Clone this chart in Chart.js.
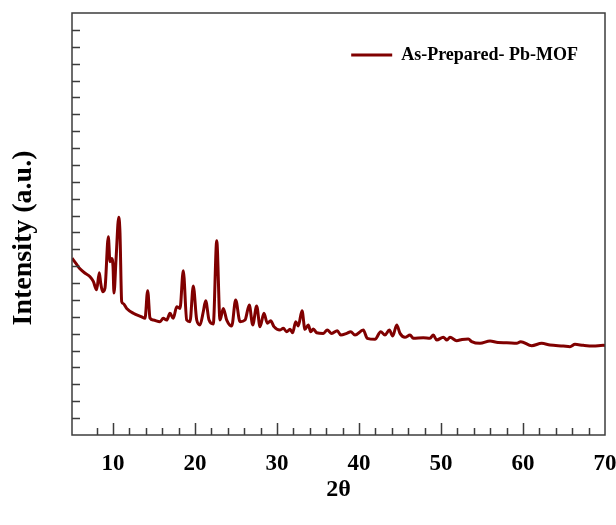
<!DOCTYPE html>
<html><head><meta charset="utf-8">
<script src="https://cdn.jsdelivr.net/npm/chart.js@4"></script>
<style>html,body{margin:0;padding:0;background:#fff}canvas{display:block}</style>
</head><body>
<canvas id="c" width="616" height="525"></canvas>
<script>
const twoTheta = [5.00,5.5,6.0,6.6,7.2,7.6,8.0,8.33,8.5,8.74,9.02,9.43,9.63,9.84,10.0,10.12,10.37,10.70,10.85,11.06,11.26,11.67,12.48,13.50,13.90,14.23,14.51,14.91,15.73,16.13,16.55,16.95,17.35,17.77,18.17,18.57,18.99,19.39,19.79,20.21,20.61,21.01,21.30,21.71,22.23,22.65,23.05,23.45,23.87,24.48,24.96,25.49,26.10,26.62,27.04,27.52,27.93,28.41,28.82,29.23,29.63,30.37,30.77,31.18,31.59,31.91,32.28,32.60,33.05,33.41,33.82,34.11,34.43,34.84,35.65,36.13,36.67,37.35,37.77,38.50,38.99,39.51,40.52,41.01,41.95,42.65,43.17,43.70,44.11,44.60,45.00,45.61,46.22,46.62,47.84,48.66,49.06,49.48,50.28,50.73,51.10,51.91,52.56,53.33,53.74,54.76,55.98,56.95,58.01,59.23,59.72,61.06,62.28,63.29,64.91,65.73,66.34,67.35,68.57,69.79,70.0];
const intensity = [10.47,10.15,9.83,9.58,9.38,9.10,8.60,9.61,9.0,8.49,8.70,11.75,10.27,10.45,10.0,8.41,10.40,12.90,12.00,7.90,7.78,7.50,7.21,7.00,6.91,8.55,6.93,6.81,6.71,6.91,6.81,7.21,6.91,7.60,7.50,9.73,6.81,6.71,8.83,6.81,6.52,7.30,7.96,6.81,6.58,11.51,6.81,7.50,6.81,6.46,8.00,6.71,6.81,7.70,6.52,7.64,6.42,7.21,6.62,6.77,6.42,6.22,6.32,6.12,6.26,6.06,6.71,6.46,7.36,6.26,6.52,6.12,6.28,6.06,6.02,6.22,6.02,6.18,5.92,6.02,6.12,5.92,6.22,5.73,5.67,6.12,5.92,6.22,5.86,6.52,6.02,5.79,5.92,5.73,5.76,5.73,5.92,5.63,5.79,5.63,5.79,5.59,5.66,5.69,5.53,5.43,5.57,5.48,5.47,5.43,5.53,5.29,5.43,5.33,5.27,5.23,5.37,5.31,5.27,5.31,5.30];
const xTickLabels = [10,20,30,40,50,60,70];
const seriesName = 'As-Prepared- Pb-MOF';
const xTitle = '2θ';
const yTitle = 'Intensity (a.u.)';

const serif = "'Liberation Serif','Times New Roman',serif";
const lineColor = '#800000';

const frameTicks = {
  id: 'frameTicks',
  afterDatasetsDraw(chart) {
    const {ctx, chartArea: a, scales: {x, y}} = chart;
    ctx.save();
    ctx.strokeStyle = '#3c3c3c';
    ctx.lineWidth = 1.5;
    ctx.beginPath();
    x.ticks.forEach(t => {
      if (t.value <= x.min || t.value >= x.max) return;
      const px = Math.round(x.getPixelForValue(t.value)) + 0.5;
      const len = xTickLabels.includes(t.value) ? 12 : 7;
      ctx.moveTo(px, a.bottom);
      ctx.lineTo(px, a.bottom - len);
    });
    y.ticks.forEach(t => {
      if (t.value <= y.min || t.value >= y.max) return;
      const py = Math.round(y.getPixelForValue(t.value)) + 0.5;
      ctx.moveTo(a.left, py);
      ctx.lineTo(a.left + 8, py);
    });
    ctx.stroke();
    ctx.strokeRect(a.left, a.top, a.right - a.left, a.bottom - a.top);
    ctx.restore();
  }
};

// place the legend in the upper right corner inside the plot frame
const legendPlace = {
  id: 'legendPlace',
  afterLayout(chart) {
    const lg = chart.legend;
    if (!lg || !lg.columnSizes || !lg.columnSizes.length) return;
    const pad = lg.options.labels.padding;
    const w = lg.columnSizes[0].width;
    lg.left = chart.chartArea.right - 27 - w - pad;
    lg.top = chart.chartArea.top + 33 - pad;
  }
};

new Chart(document.getElementById('c'), {
  type: 'line',
  data: {
    datasets: [{
      label: seriesName,
      data: twoTheta.map((v, i) => ({x: v, y: intensity[i]})),
      borderColor: lineColor,
      backgroundColor: lineColor,
      borderWidth: 3,
      pointRadius: 0,
      cubicInterpolationMode: 'monotone',
      borderJoinStyle: 'round',
      fill: false
    }]
  },
  options: {
    responsive: false,
    devicePixelRatio: 1,
    animation: false,
    layout: { autoPadding: false, padding: { top: 13, right: 11, left: 0, bottom: 0 } },
    plugins: {
      tooltip: { enabled: false },
      legend: {
        position: 'chartArea',
        align: 'start',
        labels: {
          usePointStyle: true,
          pointStyle: 'line',
          pointStyleWidth: 41,
          color: '#000',
          padding: 10,
          font: { family: serif, size: 18, weight: 'bold' }
        }
      }
    },
    scales: {
      x: {
        type: 'linear',
        min: 5, max: 70,
        afterFit: s => { s.height = 90; s.paddingLeft = 0; s.paddingRight = 0; },
        grid: { display: false, drawTicks: false },
        border: { display: false },
        ticks: {
          stepSize: 2,
          autoSkip: false,
          maxRotation: 0,
          padding: 15,
          color: '#000',
          font: { family: serif, size: 23, weight: 'bold' },
          callback: v => xTickLabels.includes(v) ? String(v) : ''
        },
        title: {
          display: true,
          text: xTitle,
          color: '#000',
          font: { family: serif, size: 24, weight: 'bold' },
          padding: { top: 0, bottom: 21 }
        }
      },
      y: {
        min: 0, max: 25,
        afterFit: s => { s.width = 72; s.paddingTop = 0; s.paddingBottom = 0; },
        grid: { display: false, drawTicks: false },
        border: { display: false },
        ticks: { stepSize: 1, display: false },
        title: {
          display: true,
          text: yTitle + '\u00a0\u00a0\u00a0\u00a0',
          color: '#000',
          font: { family: serif, size: 28, weight: 'bold' },
          padding: { top: 7, bottom: 0 }
        }
      }
    }
  },
  plugins: [frameTicks, legendPlace]
});
</script>
</body></html>
